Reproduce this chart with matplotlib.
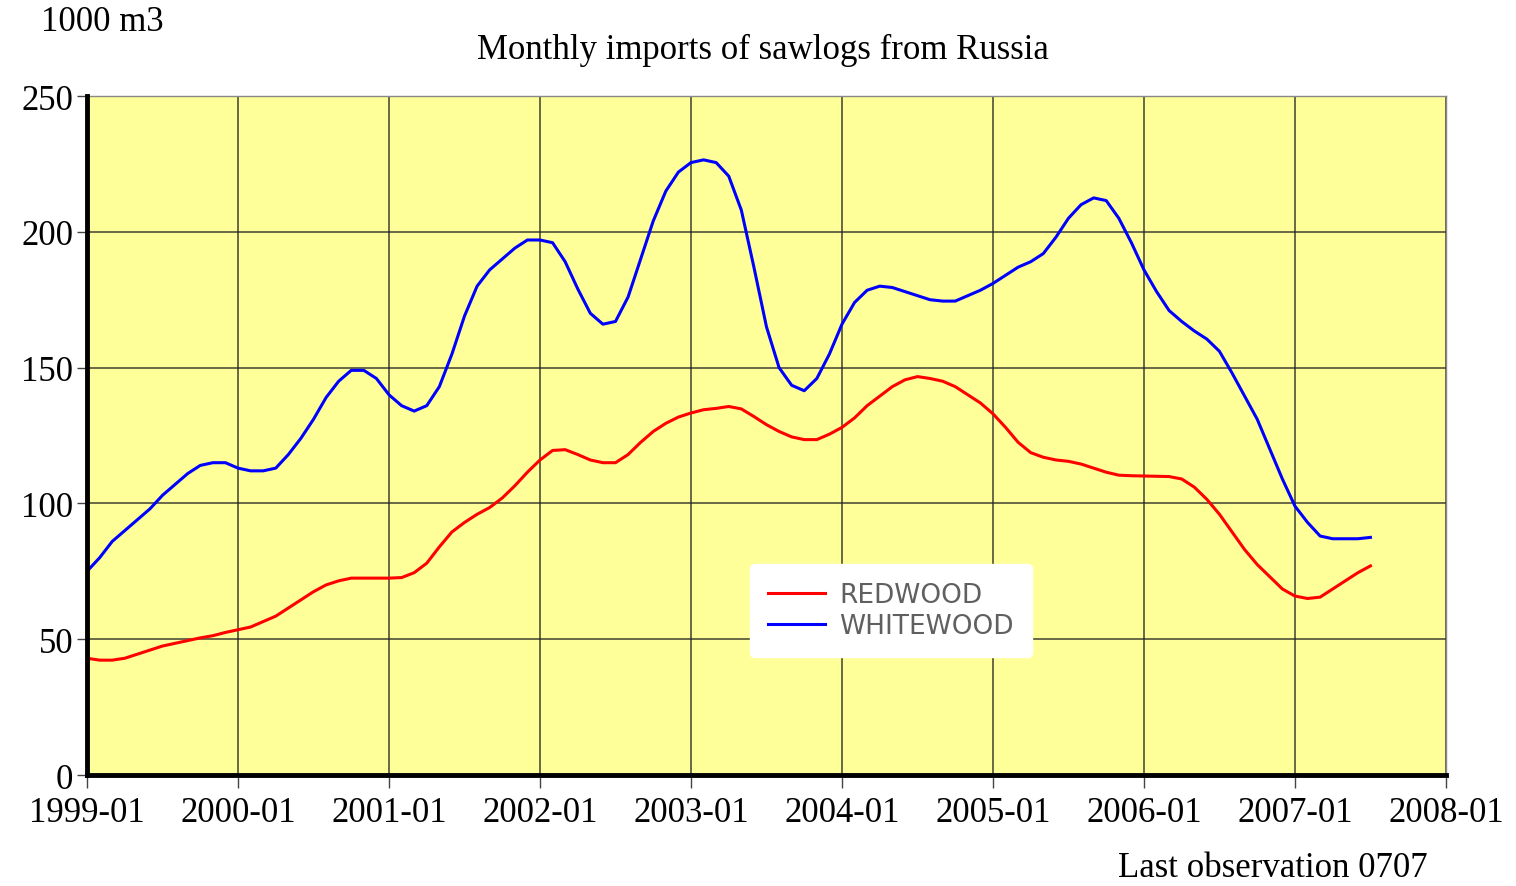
import numpy as np
import matplotlib
matplotlib.use("Agg")
import matplotlib.pyplot as plt

# monthly values, 1999-01 .. 2007-07 (1000 m3)
months = np.arange(103)

redwood = [43, 42.3, 42.3, 43, 44.5, 46, 47.5, 48.5, 49.5, 50.5, 51.3, 52.5,
           53.5, 54.5, 56.5, 58.5, 61.5, 64.5, 67.5, 70, 71.5, 72.5, 72.5, 72.5,
           72.5, 72.7, 74.5, 78, 84, 89.5, 93, 96, 98.5, 102, 106.5, 111.5,
           116, 119.5, 119.8, 118, 116, 115, 115, 118, 122.5, 126.5, 129.5, 131.8,
           133.3, 134.5, 135, 135.7, 134.8, 132, 129, 126.5, 124.5, 123.5, 123.5, 125.5,
           128, 131.5, 136, 139.5, 143, 145.5, 146.7, 146, 145, 143, 140, 137,
           133, 128, 122.5, 118.7, 117, 116, 115.5, 114.5, 113, 111.5, 110.4, 110.2,
           110.1, 110, 109.9, 109, 106, 101.5, 96, 89.5, 83, 77.5, 73, 68.5,
           65.9, 65, 65.5, 68.5, 71.5, 74.5, 77]

whitewood = [75, 80, 86, 90, 94, 98, 103, 107, 111, 114, 115, 115,
             113, 112, 112, 113, 118, 124, 131, 139, 145, 149, 149, 146,
             140, 136, 134, 136, 143, 155, 169, 180, 186, 190, 194, 197,
             197, 196, 189, 179, 170, 166, 167, 176, 190, 204, 215, 222,
             225.5, 226.5, 225.5, 220.5, 208, 187, 165, 150, 143.5, 141.5, 146, 155,
             166, 174, 178.5, 180, 179.5, 178, 176.5, 175, 174.5, 174.5, 176.5, 178.5,
             181, 184, 187, 189, 192, 198, 205, 210, 212.5, 211.5, 205, 196,
             186, 178, 171, 167, 163.5, 160.5, 156, 148, 139.5, 131, 120, 109,
             99, 93, 88, 87, 87, 87, 87.5]

year_ticks = np.arange(0, 109, 12)
year_labels = ["1999-01", "2000-01", "2001-01", "2002-01", "2003-01",
               "2004-01", "2005-01", "2006-01", "2007-01", "2008-01"]
y_ticks = [0, 50, 100, 150, 200, 250]

serif = "Liberation Serif"

fig = plt.figure(figsize=(15.16, 8.87), dpi=100)
ax = fig.add_axes([0.0574, 0.1251, 0.8964, 0.7655])
ax.set_facecolor("#ffff99")

ax.plot(months, redwood, color="#ff0000", lw=2.2, label="REDWOOD", zorder=3)
ax.plot(months, whitewood, color="#0000ff", lw=2.2, label="WHITEWOOD", zorder=3)

ax.set_xlim(0, 108)
ax.set_ylim(0, 250)
ax.set_xticks(year_ticks)
ax.set_xticklabels(year_labels)
ax.set_yticks(y_ticks)
ax.grid(True, color="#222222", lw=1.2, alpha=0.8)

for lab in ax.get_xticklabels() + ax.get_yticklabels():
    lab.set_fontfamily(serif)
    lab.set_fontsize(25)
ax.tick_params(axis="x", direction="out", length=9, width=1, color="#444444", pad=6)
ax.tick_params(axis="y", direction="out", length=7, width=1, color="#444444", pad=3)

ax.spines["left"].set_linewidth(3.5)
ax.spines["bottom"].set_linewidth(3.5)
ax.spines["left"].set_zorder(4)
ax.spines["bottom"].set_zorder(4)
ax.spines["top"].set_color("#888888")
ax.spines["right"].set_color("#888888")
ax.spines["top"].set_linewidth(1)
ax.spines["right"].set_linewidth(1)

fig.text(0.027, 0.975, "1000 m3", family=serif, fontsize=25, va="center", ha="left")
fig.text(0.503, 0.943, "Monthly imports of sawlogs from Russia", family=serif,
         fontsize=25, va="center", ha="center")
fig.text(0.942, 0.021, "Last observation 0707", family=serif, fontsize=25,
         va="center", ha="right")

leg = ax.legend(loc="upper left", bbox_to_anchor=(0.488, 0.311), borderaxespad=0,
                frameon=True, fancybox=True, framealpha=1, edgecolor="white",
                facecolor="white", prop={"family": "DejaVu Sans", "size": 19},
                handlelength=2.15, handletextpad=0.55, labelspacing=0.21,
                borderpad=0.68)
for t in leg.get_texts():
    t.set_color("#606060")

fig.savefig("out.png", dpi=100)
